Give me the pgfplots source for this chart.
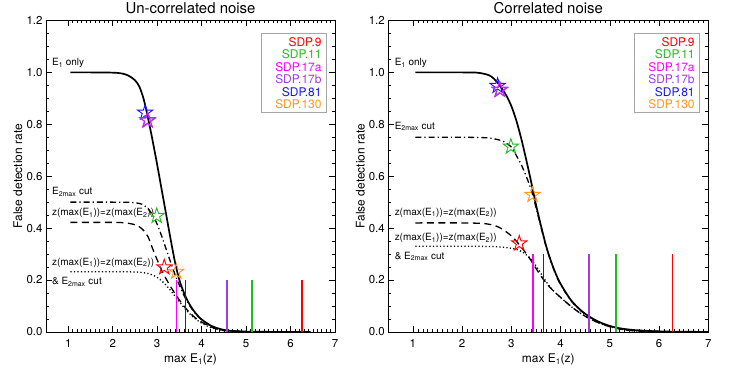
\documentclass[border=0pt]{standalone}
\usepackage{fontspec}
\setmainfont{TeX Gyre Heros}
\usepackage{pgfplots}
\pgfplotsset{compat=1.18}
\usetikzlibrary{plotmarks}

\definecolor{sdpred}{RGB}{255,0,0}
\definecolor{sdpgreen}{RGB}{30,190,30}
\definecolor{sdpmag}{RGB}{255,0,255}
\definecolor{sdppur}{RGB}{160,60,230}
\definecolor{sdpblue}{RGB}{20,20,255}
\definecolor{sdporange}{RGB}{255,150,20}

\pgfdeclareplotmark{ostar}{%
 \pgfpathmoveto{\pgfqpoint{0pt}{\pgfplotmarksize}}%
 \pgfpathlineto{\pgfqpoint{-0.2245\pgfplotmarksize}{0.309\pgfplotmarksize}}%
 \pgfpathlineto{\pgfqpoint{-0.9511\pgfplotmarksize}{0.309\pgfplotmarksize}}%
 \pgfpathlineto{\pgfqpoint{-0.3633\pgfplotmarksize}{-0.118\pgfplotmarksize}}%
 \pgfpathlineto{\pgfqpoint{-0.5878\pgfplotmarksize}{-0.809\pgfplotmarksize}}%
 \pgfpathlineto{\pgfqpoint{0pt}{-0.382\pgfplotmarksize}}%
 \pgfpathlineto{\pgfqpoint{0.5878\pgfplotmarksize}{-0.809\pgfplotmarksize}}%
 \pgfpathlineto{\pgfqpoint{0.3633\pgfplotmarksize}{-0.118\pgfplotmarksize}}%
 \pgfpathlineto{\pgfqpoint{0.9511\pgfplotmarksize}{0.309\pgfplotmarksize}}%
 \pgfpathlineto{\pgfqpoint{0.2245\pgfplotmarksize}{0.309\pgfplotmarksize}}%
 \pgfpathclose\pgfusepathqstroke}

\pgfplotsset{
 idl/.style={
  scale only axis, height=311.4bp,
  xmin=0.5, xmax=7, ymin=0, ymax=1.2,
  xtick={1,2,3,4,5,6,7}, ytick={0,0.2,0.4,0.6,0.8,1.0,1.2},
  minor x tick num=9, minor y tick num=3,
  major tick length=6bp, minor tick length=3bp,
  tick style={black, line width=0.5bp},
  axis line style={line width=0.6bp},
  /pgf/number format/assume math mode=true,
  tick label style={font=\fontsize{11.5}{13}\selectfont},
  yticklabel style={/pgf/number format/.cd, fixed, fixed zerofill, precision=1},
  xticklabel style={anchor=base, yshift=-15.7bp},
  xlabel={max E\textsubscript{1}(z)},
  xlabel style={at={(axis description cs:0.5,0)}, anchor=base, yshift=-30.6bp, font=\fontsize{12}{14}\selectfont},
  ylabel={False detection rate},
  ylabel style={font=\fontsize{12}{14}\selectfont},
  title style={at={(axis description cs:0.5,1)}, anchor=base, yshift=1bp, font=\fontsize{15}{18}\selectfont},
 },
 solidc/.style={black, line width=1.7bp, smooth},
 ddc/.style={black, line width=1.3bp, smooth, dash pattern=on 6bp off 3bp on 1.2bp off 3bp},
 dac/.style={black, line width=1.3bp, smooth, dash pattern=on 7bp off 4.5bp},
 doc/.style={black, line width=1.3bp, smooth, dash pattern=on 1.2bp off 2.3bp},
 vl/.style={line width=1.5bp},
 st/.style={only marks, mark=ostar, mark size=8bp, mark options={line width=0.9bp, fill=none}},
}
\tikzset{
 ann/.style={anchor=west, inner sep=0pt, font=\fontsize{10}{12}\selectfont},
 leg/.style={draw=gray!70, line width=0.8bp, anchor=north east, inner xsep=5bp, inner ysep=4bp,
   text width=55bp, align=right, font=\fontsize{12}{12.5}\selectfont},
}

\newcommand{\legtext}{%
\textcolor{sdpred}{SDP.9}\hspace*{5bp}\\
\textcolor{sdpgreen}{SDP.11}\hspace*{5bp}\\
\textcolor{sdpmag}{SDP.17a}\hspace*{5bp}\\
\textcolor{sdppur}{SDP.17b}\hspace*{5bp}\\
\textcolor{sdpblue}{SDP.81}\hspace*{5bp}\\
\textcolor{sdporange}{SDP.130}\hspace*{5bp}}

\begin{document}
\begin{tikzpicture}
\path[use as bounding box] (0,0) rectangle (747bp,374bp);

% ---------------- Left panel ----------------
\begin{axis}[idl, at={(46bp,42.1bp)}, anchor=south west, width=289bp,
  title={Un-correlated noise},
  ylabel style={at={(axis description cs:-0.097,0.5)}, anchor=center}]
\addplot[solidc] coordinates {(1.05,1.0)(1.5,1.0)(2.0,0.999)(2.2,0.996)(2.35,0.988)(2.5,0.97)(2.6,0.945)(2.7,0.895)(2.8,0.82)(2.9,0.735)(3.0,0.645)(3.1,0.55)(3.2,0.455)(3.3,0.36)(3.4,0.27)(3.5,0.2)(3.6,0.152)(3.7,0.115)(3.8,0.087)(3.9,0.065)(4.0,0.048)(4.2,0.025)(4.4,0.012)(4.6,0.005)(5.0,0.0012)(5.5,0.0002)(6.45,0)};
\addplot[ddc] coordinates {(1.05,0.5)(2.0,0.5)(2.4,0.499)(2.6,0.495)(2.7,0.488)(2.8,0.474)(2.9,0.45)(3.0,0.415)(3.1,0.37)(3.2,0.32)(3.3,0.27)(3.4,0.222)(3.5,0.18)(3.6,0.142)(3.7,0.11)(3.8,0.084)(3.9,0.063)(4.0,0.047)(4.2,0.024)(4.4,0.011)(4.6,0.005)(5.0,0.001)(5.5,0)};
\addplot[dac] coordinates {(1.05,0.422)(2.0,0.422)(2.3,0.42)(2.5,0.413)(2.6,0.405)(2.7,0.39)(2.8,0.365)(2.9,0.32)(3.0,0.278)(3.1,0.238)(3.2,0.205)(3.3,0.175)(3.4,0.148)(3.5,0.123)(3.6,0.1)(3.7,0.08)(3.8,0.063)(3.9,0.049)(4.0,0.038)(4.2,0.02)(4.4,0.009)(4.6,0.004)(5.0,0.001)(5.5,0)};
\addplot[doc] coordinates {(1.05,0.232)(2.0,0.232)(2.5,0.231)(2.7,0.228)(2.8,0.225)(2.9,0.219)(3.0,0.21)(3.1,0.197)(3.2,0.18)(3.3,0.16)(3.4,0.138)(3.5,0.116)(3.6,0.095)(3.7,0.076)(3.8,0.059)(3.9,0.045)(4.0,0.034)(4.2,0.017)(4.4,0.008)(4.6,0.003)(5.0,0.0005)(5.5,0)};
% vertical lines
\addplot[vl, sdpmag] coordinates {(3.44,0)(3.44,0.2)};
\addplot[vl, sdpblue] coordinates {(3.64,0)(3.64,0.2)};
\addplot[vl, sdppur] coordinates {(4.57,0)(4.57,0.2)};
\addplot[vl, sdpgreen] coordinates {(5.13,0)(5.13,0.2)};
\addplot[vl, sdpred] coordinates {(6.26,0)(6.26,0.2)};
% stars
\addplot[st, sdpblue] coordinates {(2.73,0.845)};
\addplot[st, sdpmag] coordinates {(2.78,0.816)};
\addplot[st, sdppur] coordinates {(2.79,0.814)};
\addplot[st, sdpgreen] coordinates {(2.99,0.447)};
\addplot[st, sdpred] coordinates {(3.16,0.249)};
\addplot[st, sdporange] coordinates {(3.43,0.232)};
% annotations
\node[ann] at (axis cs:0.633,1.035) {E\textsubscript{1} only};
\node[ann] at (axis cs:0.633,0.540) {E\textsubscript{2max} cut};
\node[ann] at (axis cs:0.633,0.457) {z(max(E\textsubscript{1}))=z(max(E\textsubscript{2}))};
\node[ann] at (axis cs:0.633,0.267) {z(max(E\textsubscript{1}))=z(max(E\textsubscript{2}))};
\node[ann] at (axis cs:0.633,0.193) {\& E\textsubscript{2max} cut};
\node[leg] at (rel axis cs:0.972,0.960) {\legtext};
\end{axis}

% ---------------- Right panel ----------------
\begin{axis}[idl, at={(388.3bp,42.1bp)}, anchor=south west, width=320bp,
  title={Correlated noise},
  ylabel style={at={(axis description cs:-0.0875,0.5)}, anchor=center}]
\addplot[solidc] coordinates {(1.05,1.0)(2.0,1.0)(2.3,0.999)(2.5,0.992)(2.6,0.983)(2.7,0.965)(2.8,0.94)(2.9,0.91)(3.0,0.87)(3.1,0.815)(3.2,0.745)(3.3,0.665)(3.4,0.58)(3.5,0.49)(3.6,0.41)(3.7,0.335)(3.8,0.275)(3.9,0.225)(4.0,0.185)(4.2,0.125)(4.4,0.085)(4.6,0.057)(4.8,0.037)(5.0,0.023)(5.2,0.014)(5.5,0.007)(6.0,0.002)(6.5,0.0005)(7.0,0)};
\addplot[ddc] coordinates {(1.05,0.75)(2.0,0.75)(2.5,0.748)(2.7,0.742)(2.85,0.733)(3.0,0.712)(3.1,0.68)(3.2,0.645)(3.3,0.6)(3.4,0.55)(3.5,0.48)(3.6,0.405)(3.7,0.332)(3.8,0.272)(3.9,0.222)(4.0,0.182)(4.2,0.123)(4.4,0.083)(4.6,0.056)(4.8,0.036)(5.0,0.022)(5.2,0.013)(5.5,0.006)(6.0,0.002)(6.5,0)};
\addplot[dac] coordinates {(1.05,0.42)(2.0,0.42)(2.4,0.418)(2.6,0.413)(2.75,0.403)(2.9,0.385)(3.0,0.37)(3.1,0.35)(3.2,0.327)(3.3,0.302)(3.4,0.275)(3.5,0.245)(3.6,0.215)(3.7,0.19)(3.8,0.168)(3.9,0.15)(4.0,0.133)(4.2,0.1)(4.4,0.072)(4.6,0.05)(4.8,0.033)(5.0,0.02)(5.2,0.011)(5.5,0.004)(6.0,0.001)(6.5,0)};
\addplot[doc] coordinates {(1.05,0.33)(2.0,0.33)(2.6,0.329)(2.9,0.325)(3.1,0.318)(3.2,0.31)(3.3,0.298)(3.4,0.28)(3.5,0.255)(3.6,0.225)(3.7,0.195)(3.8,0.17)(3.9,0.15)(4.0,0.133)(4.2,0.1)(4.4,0.072)(4.6,0.05)(4.8,0.033)(5.0,0.02)(5.2,0.011)(5.5,0.004)(6.0,0.001)(6.5,0)};
% vertical lines
\addplot[vl, sdpmag] coordinates {(3.44,0)(3.44,0.3)};
\addplot[vl, sdpblue] coordinates {(3.65,0)(3.65,0.3)};
\addplot[vl, sdppur] coordinates {(4.575,0)(4.575,0.3)};
\addplot[vl, sdpgreen] coordinates {(5.13,0)(5.13,0.3)};
\addplot[vl, sdpred] coordinates {(6.27,0)(6.27,0.3)};
% stars
\addplot[st, sdpblue] coordinates {(2.72,0.948)};
\addplot[st, sdpmag] coordinates {(2.76,0.934)};
\addplot[st, sdppur] coordinates {(2.77,0.932)};
\addplot[st, sdpgreen] coordinates {(2.99,0.714)};
\addplot[st, sdporange] coordinates {(3.43,0.528)};
\addplot[st, sdpred] coordinates {(3.16,0.341)};
% annotations
\node[ann] at (axis cs:0.627,1.035) {E\textsubscript{1} only};
\node[ann] at (axis cs:0.627,0.791) {E\textsubscript{2max} cut};
\node[ann] at (axis cs:0.627,0.459) {z(max(E\textsubscript{1}))=z(max(E\textsubscript{2}))};
\node[ann] at (axis cs:0.627,0.361) {z(max(E\textsubscript{1}))=z(max(E\textsubscript{2}))};
\node[ann] at (axis cs:0.627,0.290) {\& E\textsubscript{2max} cut};
\node[leg] at (rel axis cs:0.974,0.960) {\legtext};
\end{axis}
\end{tikzpicture}
\end{document}
